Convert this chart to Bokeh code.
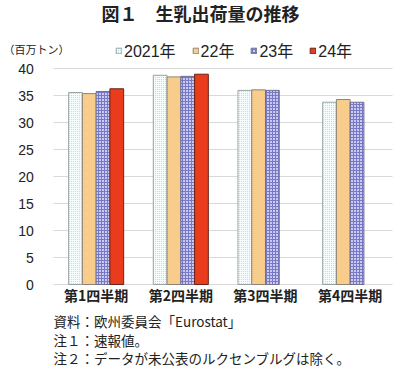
from bokeh.plotting import figure
from bokeh.models import Legend, LegendItem, Label, Range1d, SingleIntervalTicker, FixedTicker, Grid
from bokeh.embed import file_html
from bokeh.resources import INLINE

quarters = ["第1四半期", "第2四半期", "第3四半期", "第4四半期"]
years = ["2021年", "22年", "23年", "24年"]
y2021 = [35.6, 38.8, 36.0, 33.8]
y2022 = [35.4, 38.5, 36.1, 34.3]
y2023 = [35.8, 38.6, 36.0, 33.8]
y2024 = [36.3, 39.0]
title_text = "図１　生乳出荷量の推移"
unit_text = "（百万トン）"
notes = ["資料：欧州委員会「Eurostat」", "注１：速報値。", "注２：データが未公表のルクセンブルグは除く。"]

JP = "Noto Sans CJK JP"
MIX = "Liberation Sans, Noto Sans CJK JP"
LAT = "Liberation Sans"

W, H = 400, 372
p = figure(width=W, height=H, x_range=Range1d(-0.6295, 4.0945), y_range=Range1d(-16.32, 52.67),
           output_backend="svg", toolbar_location=None,
           min_border_left=0, min_border_right=0, min_border_top=0, min_border_bottom=0)
p.outline_line_color = None
p.xgrid.grid_line_color = None
p.ygrid.grid_line_color = "#D9D9D9"
p.ygrid.grid_line_width = 1
if "cross_bounds" in Grid.properties():
    p.ygrid.cross_bounds = (0, 4)

centers = [i + 0.5 for i in range(len(quarters))]
bw = 0.1625
offs = [-1.5 * bw, -0.5 * bw, 0.5 * bw, 1.5 * bw]

def xs(k, n):
    return [c + offs[k] for c in centers[:n]]

r1 = p.vbar(x=xs(0, 4), top=y2021, width=bw,
            fill_color="#F6FCFC", line_color="#9AA4A4", line_width=1,
            hatch_pattern="dot", hatch_color="#A6D8D8", hatch_scale=2, hatch_weight=1)
r2 = p.vbar(x=xs(1, 4), top=y2022, width=bw,
            fill_color="#F8CD8C", line_color="#8C8478", line_width=1)
r3 = p.vbar(x=xs(2, 4), top=y2023, width=bw,
            fill_color="#CACAF0", line_color="#6E6E8E", line_width=1,
            hatch_pattern="cross", hatch_color="#7878C8", hatch_scale=3, hatch_weight=1)
r4 = p.vbar(x=xs(3, len(y2024)), top=y2024, width=bw,
            fill_color="#E83C1C", line_color="#6A2416", line_width=1)

p.yaxis.fixed_location = 0
p.yaxis.bounds = (0, 40)
p.yaxis.ticker = SingleIntervalTicker(interval=5)
p.yaxis.axis_line_color = None
p.yaxis.major_tick_line_color = None
p.yaxis.minor_tick_line_color = None
p.yaxis.major_label_standoff = 14
p.yaxis.major_label_text_font = LAT
p.yaxis.major_label_text_font_size = "14px"
p.yaxis.major_label_text_color = "#222222"

p.xaxis.fixed_location = 0
p.xaxis.ticker = FixedTicker(ticks=centers)
p.xaxis.major_label_overrides = {c: q for c, q in zip(centers, quarters)}
p.xaxis.axis_line_color = None
p.xaxis.major_tick_line_color = None
p.xaxis.minor_tick_line_color = None
p.xaxis.major_label_standoff = -6
p.xaxis.major_label_text_font = JP
p.xaxis.major_label_text_font_size = "14px"
p.xaxis.major_label_text_font_style = "bold"
p.xaxis.major_label_text_color = "#222222"

legend = Legend(items=[LegendItem(label=y, renderers=[r]) for y, r in zip(years, [r1, r2, r3, r4])],
                orientation="horizontal", location=(115, 310),
                background_fill_alpha=0, border_line_color=None,
                glyph_width=7, glyph_height=7, label_standoff=2, spacing=16,
                padding=0, margin=0, label_height=18,
                label_text_font=MIX, label_text_font_size="16px", label_text_color="#222222")
p.add_layout(legend, "center")

p.add_layout(Label(x=200, y=359.5, x_units="screen", y_units="screen", text=title_text,
                   text_font=JP, text_font_size="18px", text_font_style="bold",
                   text_align="center", text_baseline="middle", text_color="#222222"))
p.add_layout(Label(x=3, y=323.5, x_units="screen", y_units="screen", text=unit_text,
                   text_font=JP, text_font_size="11px",
                   text_align="left", text_baseline="middle", text_color="#222222"))
for i, t in enumerate(notes):
    p.add_layout(Label(x=53, y=[51.5, 33, 15][i], x_units="screen", y_units="screen", text=t,
                       text_font=JP, text_font_size="13.5px",
                       text_align="left", text_baseline="middle", text_color="#222222"))

open("out.html", "w").write(file_html(p, INLINE))
